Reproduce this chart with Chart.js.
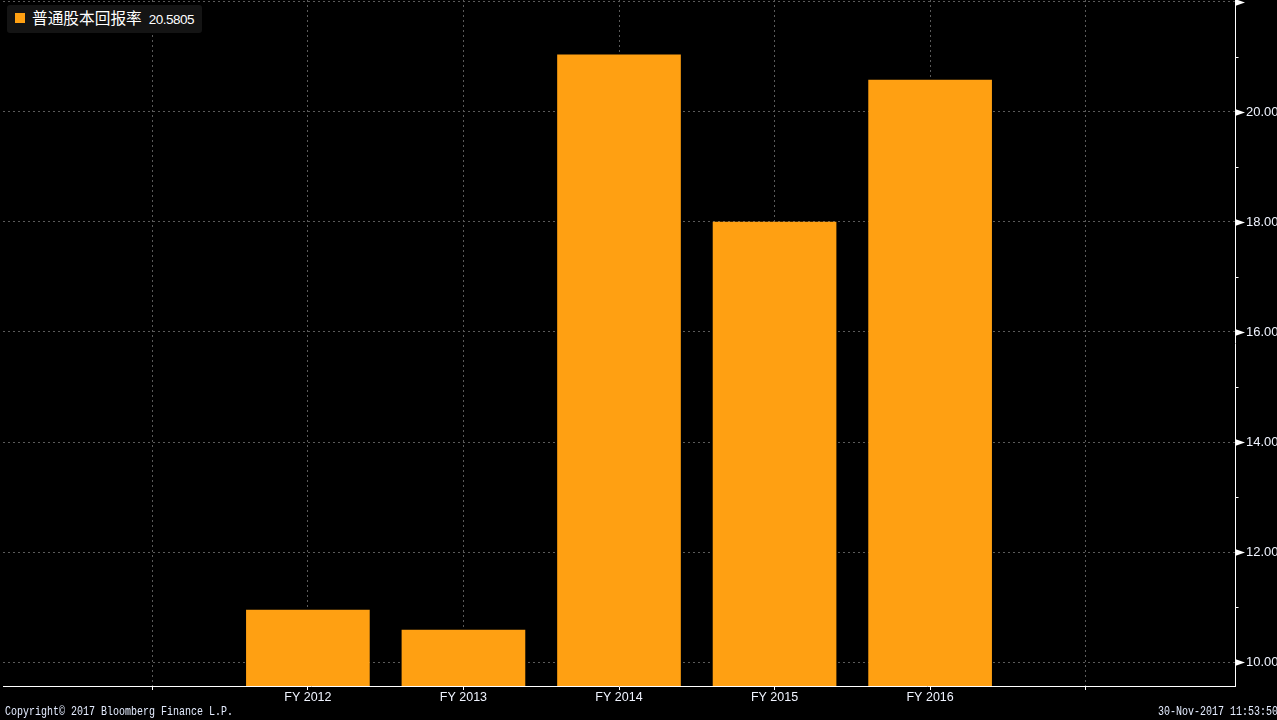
<!DOCTYPE html>
<html>
<head>
<meta charset="utf-8">
<script src="https://cdn.jsdelivr.net/npm/chart.js@4/dist/chart.umd.min.js"></script>
<style>
  html, body { margin: 0; padding: 0; background: #000; overflow: hidden; }
  #wrap { position: relative; width: 1277px; height: 720px; background: #000; }
  #legend { position: absolute; left: 7px; top: 5px; width: 195px; height: 28px; background: #141414; border-radius: 3px; }
  #legend .sw { position: absolute; left: 8px; top: 8px; width: 10px; height: 10px; background: #ffa012; }
  #legend .txt { position: absolute; left: 25px; top: 3px; color: #fff; font: 15.7px "Noto Sans CJK SC", sans-serif; white-space: nowrap; line-height: 20px; }
  #legend .num { font: 13.5px "Liberation Sans", sans-serif; margin-left: 7px; letter-spacing: -0.5px; }
  .foot { position: absolute; top: 705px; color: #e4ecff; font: 12px "Liberation Mono", monospace; white-space: nowrap; line-height: 14px; transform: scaleX(0.833); }
  #copy { left: 5px; transform-origin: left top; }
  #stamp { right: -1px; transform-origin: right top; }
</style>
</head>
<body>
<div id="wrap">
  <canvas id="c" width="1277" height="720"></canvas>
  <div id="legend"><div class="sw"></div><div class="txt">普通股本回报率<span class="num">20.5805</span></div></div>
  <div class="foot" id="copy">Copyright© 2017 Bloomberg Finance L.P.</div>
  <div class="foot" id="stamp">30-Nov-2017 11:53:50</div>
</div>
<script>
const categories = ['FY 2012', 'FY 2013', 'FY 2014', 'FY 2015', 'FY 2016'];
const roeValues = [10.945, 10.58, 21.04, 18.0, 20.5805];
const yTickValues = [10, 11, 12, 13, 14, 15, 16, 17, 18, 19, 20, 21, 22];
const yTickLabels = { 10: '10.00', 12: '12.00', 14: '14.00', 16: '16.00', 18: '18.00', 20: '20.00' };
const xTickValues = [0, 1, 2, 3, 4, 5, 6];

const arrowTicks = {
  id: 'arrowTicks',
  afterDraw(chart) {
    const ys = chart.scales.y;
    const ctx = chart.ctx;
    const x0 = ys.left;
    ctx.save();
    ctx.fillStyle = '#ffffff';
    ctx.strokeStyle = '#ffffff';
    ctx.lineWidth = 1;
    ys.ticks.forEach(t => {
      const py = Math.round(ys.getPixelForValue(t.value));
      if (t.value % 2 === 0) {
        ctx.beginPath();
        ctx.moveTo(x0, py - 3);
        ctx.lineTo(x0 + 10, py + 0.5);
        ctx.lineTo(x0, py + 4);
        ctx.closePath();
        ctx.fill();
      } else {
        ctx.beginPath();
        ctx.moveTo(x0, py + 0.5);
        ctx.lineTo(x0 + 3.5, py + 0.5);
        ctx.stroke();
      }
    });
    ctx.restore();
  }
};

new Chart(document.getElementById('c'), {
  type: 'bar',
  data: {
    datasets: [{
      label: '普通股本回报率',
      data: roeValues.map((v, i) => ({ x: i + 1, y: v })),
      backgroundColor: '#ffa012',
      borderWidth: 0,
      barThickness: 123
    }]
  },
  options: {
    responsive: false,
    animation: false,
    events: [],
    layout: { padding: { left: 3, top: 0, right: 0, bottom: 0 } },
    plugins: { legend: { display: false }, tooltip: { enabled: false } },
    scales: {
      x: {
        type: 'linear',
        offset: false,
        min: -0.96,
        max: 6.96,
        afterBuildTicks(s) { s.ticks = xTickValues.map(v => ({ value: v })); },
        afterFit(s) { s.height = 34; s.paddingLeft = 0; s.paddingRight = 0; },
        grid: { offset: false, color: '#5a5a5a', lineWidth: 1, tickColor: '#ffffff', tickLength: 4, drawTicks: true },
        border: { display: true, color: '#ffffff', width: 1, dash: [2, 3] },
        ticks: {
          autoSkip: false,
          maxRotation: 0,
          padding: 0,
          color: '#f0f4ff',
          font: { family: 'Liberation Sans', size: 12.5 },
          callback: v => categories[v - 1] ?? ''
        }
      },
      y: {
        position: 'right',
        min: 9.564,
        max: 22.036,
        afterBuildTicks(s) { s.ticks = yTickValues.map(v => ({ value: v })); },
        afterFit(s) { s.width = 42; s.paddingTop = 0; s.paddingBottom = 0; },
        grid: {
          color: c => (c.tick && c.tick.value % 2 === 0) ? '#5a5a5a' : 'rgba(0,0,0,0)',
          lineWidth: 1,
          drawTicks: false
        },
        border: { display: true, color: '#ffffff', width: 1, dash: [2, 3] },
        ticks: {
          padding: 11,
          color: '#f0f4ff',
          font: { family: 'Liberation Sans', size: 13 },
          callback: v => yTickLabels[v] ?? ''
        }
      }
    }
  },
  plugins: [arrowTicks]
});
</script>
</body>
</html>
